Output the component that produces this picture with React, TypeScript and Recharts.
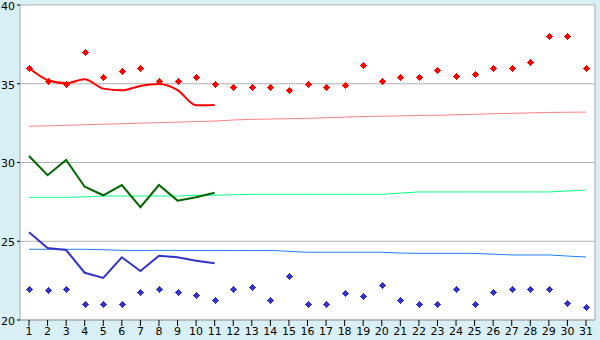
import React from 'react';
import { ComposedChart, Line, XAxis, YAxis, CartesianGrid } from 'recharts';

const days = [1,2,3,4,5,6,7,8,9,10,11,12,13,14,15,16,17,18,19,20,21,22,23,24,25,26,27,28,29,30,31];

const maxDots = [36.0,35.2,35.0,37.0,35.4,35.8,36.0,35.2,35.2,35.4,35.0,34.8,34.8,34.8,34.6,35.0,34.8,34.9,36.2,35.2,35.4,35.4,35.9,35.5,35.6,36.0,36.0,36.4,38.0,38.0,36.0];
const minDots = [22.0,21.9,22.0,21.0,21.0,21.0,21.8,22.0,21.8,21.6,21.3,22.0,22.1,21.3,22.8,21.0,21.0,21.7,21.5,22.2,21.3,21.0,21.0,22.0,21.0,21.8,22.0,22.0,22.0,21.1,20.8];

const maxAvg = [36.0,35.24,35.03,35.28,34.69,34.58,34.86,34.98,34.6,33.63,33.65];
const meanAvg = [30.41,29.19,30.16,28.46,27.92,28.57,27.16,28.57,27.58,27.79,28.08];
const minAvg = [25.57,24.57,24.44,23.0,22.67,23.98,23.11,24.08,23.98,23.76,23.6];

const normMax = [32.3,32.33,32.36,32.4,32.43,32.46,32.5,32.53,32.56,32.6,32.63,32.7,32.74,32.76,32.78,32.8,32.84,32.88,32.92,32.94,32.96,32.99,33.0,33.03,33.06,33.1,33.12,33.15,33.18,33.19,33.2];
const normMean = [27.79,27.79,27.79,27.82,27.87,27.87,27.87,27.87,27.87,27.92,27.92,27.95,27.98,27.98,27.98,27.98,27.98,27.98,27.98,27.98,28.06,28.13,28.13,28.13,28.13,28.13,28.13,28.13,28.13,28.19,28.25];
const normMin = [24.49,24.49,24.49,24.49,24.46,24.42,24.42,24.42,24.42,24.42,24.42,24.42,24.42,24.42,24.36,24.3,24.3,24.3,24.3,24.3,24.25,24.23,24.23,24.23,24.23,24.18,24.13,24.13,24.13,24.06,24.0];

const yTicks = [20, 25, 30, 35, 40];

const data = days.map((d, i) => ({
  day: d,
  maxDot: maxDots[i],
  minDot: minDots[i],
  maxAvg: maxAvg[i],
  meanAvg: meanAvg[i],
  minAvg: minAvg[i],
  normMax: normMax[i],
  normMean: normMean[i],
  normMin: normMin[i],
}));

const makeCross = (color: string) => (props: any) => {
  const { cx, cy, index } = props;
  if (cx == null || cy == null) return <g key={index} />;
  const x = Math.round(cx);
  const y = Math.round(cy);
  return (
    <g key={index}>
      <rect x={x - 3} y={y} width={7} height={1} fill={color} />
      <rect x={x} y={y - 3} width={1} height={7} fill={color} />
      <rect x={x - 2} y={y - 1} width={5} height={3} fill={color} />
      <rect x={x - 1} y={y - 2} width={3} height={5} fill={color} />
    </g>
  );
};

const tickStyle = { fontFamily: 'DejaVu Sans', fontSize: 11, fill: '#000' };

export default function App() {
  return (
    <div style={{ position: 'absolute', left: 0, top: 0, width: 600, height: 340, background: '#d9eff6' }}>
      <ComposedChart width={600} height={340} data={data} margin={{ top: 5, right: 0, bottom: 0, left: 0 }}>
        <CartesianGrid vertical={false} stroke="#b0b0b0" fill="#ffffff" horizontalValues={yTicks} />
        <XAxis
          dataKey="day"
          type="category"
          height={20}
          padding={{ left: 9, right: 9 }}
          interval={0}
          tick={tickStyle}
          tickSize={6}
          tickMargin={1}
          stroke="#a8a8a8"
          tickLine={{ stroke: '#000' }}
        />
        <YAxis
          domain={[20, 40]}
          ticks={yTicks}
          width={20}
          tick={{ ...tickStyle, dy: 1 }}
          tickSize={3}
          tickMargin={2}
          stroke="#a8a8a8"
          tickLine={{ stroke: '#000' }}
          interval={0}
        />
        <YAxis yAxisId="r" orientation="right" width={5} tick={false} tickLine={false} stroke="#a8a8a8" />
        <Line dataKey="normMax" stroke="#ff8080" strokeWidth={1} dot={false} type="linear" isAnimationActive={false} />
        <Line dataKey="normMean" stroke="#00ff80" strokeWidth={1} dot={false} type="linear" isAnimationActive={false} />
        <Line dataKey="normMin" stroke="#1a7fff" strokeWidth={1} dot={false} type="linear" isAnimationActive={false} />
        <Line dataKey="maxAvg" stroke="#ff0000" strokeWidth={2} dot={false} type="monotone" isAnimationActive={false} />
        <Line dataKey="meanAvg" stroke="#006600" strokeWidth={2} dot={false} type="linear" isAnimationActive={false} />
        <Line dataKey="minAvg" stroke="#3333cc" strokeWidth={2} dot={false} type="linear" isAnimationActive={false} />
        <Line dataKey="maxDot" stroke="none" dot={makeCross('#ff0000')} activeDot={false} isAnimationActive={false} />
        <Line dataKey="minDot" stroke="none" dot={makeCross('#3333cc')} activeDot={false} isAnimationActive={false} />
      </ComposedChart>
    </div>
  );
}
